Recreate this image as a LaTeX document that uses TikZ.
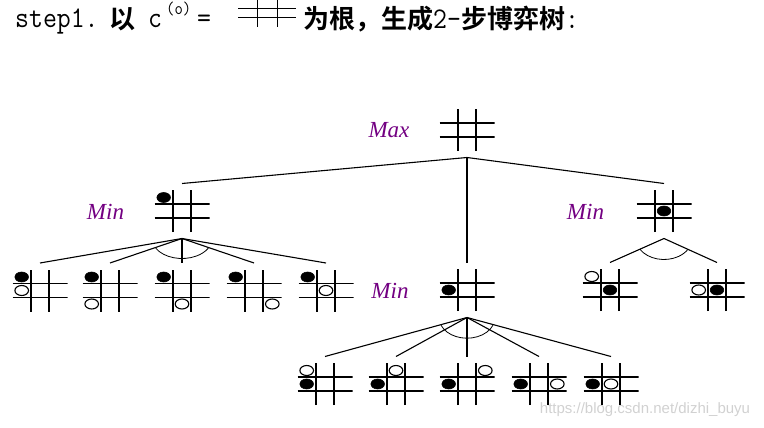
\documentclass[tikz,border=0pt]{standalone}
\usepackage{fontspec}
\newfontfamily\cjkbold{Noto Sans CJK SC Bold}
\newfontfamily\titlemono{Latin Modern Mono}[FakeStretch=0.9]
\newfontfamily\levelfont{Liberation Serif}
\newfontfamily\urlfont{Liberation Sans}
\definecolor{levelpurple}{RGB}{115,0,130}
\newcommand{\stone}[4]{\draw[#1] ([shift={({18.3*(#3)},{-13.5*(#4)})}]#2.center) ellipse[x radius=6.8, y radius=5];}
\begin{document}
\begin{tikzpicture}[x=1pt, y=1pt,
    board/.style={minimum width=55pt, minimum height=42pt, inner sep=0pt, outer sep=6.5pt,
        path picture={
            \foreach \d in {-1,1} {
                \draw[line width=1.6pt] ([shift={(-27.5pt,7pt*\d)}]path picture bounding box.center) -- ++(55pt,0pt);
                \draw[line width=1.6pt] ([shift={(9.2pt*\d,-21pt)}]path picture bounding box.center) -- ++(0pt,42pt);
            }
        }},
    blackstone/.style={fill=black, draw=black, line width=0.6pt},
    whitestone/.style={fill=white, draw=black, line width=1.1pt},
    branch/.style={line width=1.1pt},
    andarc/.style={line width=0.8pt},
    level/.style={anchor=base, text=levelpurple, font=\levelfont\itshape\fontsize{23}{23}\selectfont},
    titletext/.style={anchor=base west, inner sep=0pt, font=\titlemono\fontsize{30}{32}\selectfont},
    watermark/.style={text=black!18, font=\urlfont\fontsize{15}{15}\selectfont}
]
\useasboundingbox (0,0) rectangle (764,-428);

\node[titletext] (step) at (15,-28) {step1.};
\node[titletext, font=\cjkbold\fontsize{26}{30}\selectfont] (yi) at (109,-29) {以};
\node[titletext] (cvar) at (148,-28) {c};
\node[titletext, font=\titlemono\fontsize{18}{18}\selectfont] (cidx) at (166,-15) {(o)};
\node[titletext] (eq) at (197,-28) {=};
\draw[line width=1pt] (238,-8.3) -- (296,-8.3);
\draw[line width=1pt] (238,-17.3) -- (296,-17.3);
\draw[line width=1pt] (257,0) -- (257,-27);
\draw[line width=1pt] (277,0) -- (277,-27);
\node[titletext] (rest) at (303,-29) {{\cjkbold\fontsize{26}{30}\selectfont 为根，生成}2-{\cjkbold\fontsize{26}{30}\selectfont 步博弈树}:};

\node[board] (max) at (467,-130) {};
\node[board] (minL) at (182,-211) {};
\node[board] (minM) at (467,-290) {};
\node[board] (minR) at (664,-211) {};

\node[board] (L1) at (40,-290.5) {};
\node[board] (L2) at (110,-290.5) {};
\node[board] (L3) at (182,-290.5) {};
\node[board] (L4) at (254,-290.5) {};
\node[board] (L5) at (326,-290.5) {};

\node[board] (M1) at (325,-384) {};
\node[board] (M2) at (396,-384) {};
\node[board] (M3) at (467,-384) {};
\node[board] (M4) at (539,-384) {};
\node[board] (M5) at (611,-384) {};

\node[board] (R1) at (610,-290) {};
\node[board] (R2) at (717,-290) {};

\node[level] (maxlabel) at (389,-138) {Max};
\node[level] (minLlabel) at (105.5,-219) {Min};
\node[level] (minMlabel) at (390,-298) {Min};
\node[level] (minRlabel) at (585.5,-219) {Min};

\stone{blackstone}{minL}{-1}{-1}
\stone{blackstone}{minM}{-1}{0}
\stone{blackstone}{minR}{0}{0}

\foreach \c in {L1,L2,L3,L4,L5} {\stone{blackstone}{\c}{-1}{-1}}
\stone{whitestone}{L1}{-1}{0}
\stone{whitestone}{L2}{-1}{1}
\stone{whitestone}{L3}{0}{1}
\stone{whitestone}{L4}{1}{1}
\stone{whitestone}{L5}{0}{0}

\foreach \c in {M1,M2,M3,M4,M5} {\stone{blackstone}{\c}{-1}{0}}
\stone{whitestone}{M1}{-1}{-1}
\stone{whitestone}{M2}{0}{-1}
\stone{whitestone}{M3}{1}{-1}
\stone{whitestone}{M4}{1}{0}
\stone{whitestone}{M5}{0}{0}

\stone{whitestone}{R1}{-1}{-1}
\stone{blackstone}{R1}{0}{0}
\stone{whitestone}{R2}{-1}{0}
\stone{blackstone}{R2}{0}{0}

\foreach \c in {minL,minM,minR} {\draw[branch] (max.south) -- (\c.north);}
\foreach \c in {L1,L2,L3,L4,L5} {\draw[branch] (minL.south) -- (\c.north);}
\foreach \c in {M1,M2,M3,M4,M5} {\draw[branch] (minM.south) -- (\c.north);}
\foreach \c in {R1,R2} {\draw[branch] (minR.south) -- (\c.north);}

\draw[andarc] (minL.south) ++(209:30 and 20) arc[start angle=209, end angle=331, x radius=30, y radius=20];
\draw[andarc] (minM.south) ++(202:28 and 20.7) arc[start angle=202, end angle=338, x radius=28, y radius=20.7];
\draw[andarc] (minR.south) ++(211:28 and 21) arc[start angle=211, end angle=329, x radius=28, y radius=21];

\node[watermark] (url) at (645,-410) {https://blog.csdn.net/dizhi\_buyu};
\end{tikzpicture}
\end{document}
